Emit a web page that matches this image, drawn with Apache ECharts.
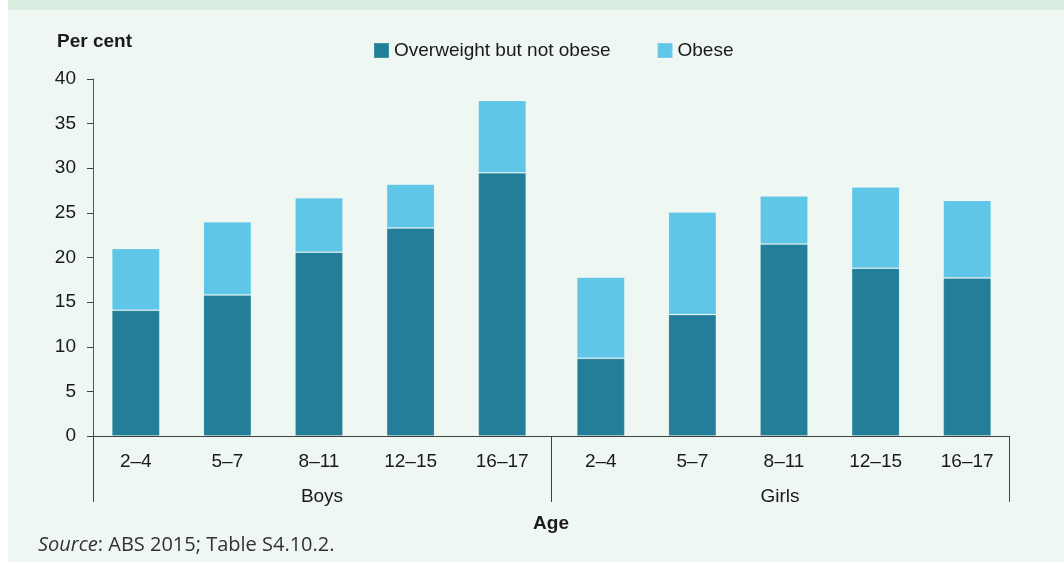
<!DOCTYPE html>
<html>
<head>
<meta charset="utf-8">
<script src="https://cdn.jsdelivr.net/npm/echarts@6/dist/echarts.min.js"></script>
<style>
  html, body { margin: 0; padding: 0; background: #ffffff; }
  #frame { position: absolute; left: 8px; top: 0; width: 1056px; height: 562px; background: #eef7f2; border-top: 10px solid #d9ece0; box-sizing: border-box; }
  #chart { position: absolute; left: 0; top: 0; width: 1064px; height: 563px; }
</style>
</head>
<body>
<div id="frame"></div>
<div id="chart"></div>
<script>
// Age groups shown under each sex
const ageGroups = ['2–4', '5–7', '8–11', '12–15', '16–17'];
const sexes = ['Boys', 'Girls'];

// Per cent of children overweight (but not obese) and obese, by age group
const boysOverweight = [14.1, 15.8, 20.6, 23.3, 29.5];
const boysObese = [6.9, 8.2, 6.1, 4.9, 8.1];
const girlsOverweight = [8.7, 13.6, 21.5, 18.8, 17.7];
const girlsObese = [9.1, 11.5, 5.4, 9.1, 8.7];

const yTicks = { min: 0, max: 40, interval: 5 };

const textColor = '#1a1a1a';
const axisColor = '#404040';
const font = 'Liberation Sans, Arial, sans-serif';
const fontSize = 19;
const darkTeal = '#237f99';
const lightBlue = '#5fc6e8';

const chart = echarts.init(document.getElementById('chart'));

// Grid 0 carries the visible axes; grids 1 and 2 hold the boys and girls bars
const plotTop = 79, plotBottom = 127;

function barAxis(gridIndex) {
  return {
    type: 'category',
    gridIndex,
    data: ageGroups,
    axisLine: { show: false },
    axisTick: { show: false },
    axisLabel: { margin: 16, fontSize, color: textColor, fontFamily: font }
  };
}
function hiddenY(gridIndex) {
  return { type: 'value', gridIndex, min: yTicks.min, max: yTicks.max, interval: yTicks.interval, show: false };
}
function barSeries(name, axisIndex, data, color) {
  return {
    name, type: 'bar', stack: 'g' + axisIndex,
    xAxisIndex: axisIndex, yAxisIndex: axisIndex,
    barWidth: 48, data,
    itemStyle: { color, borderColor: 'rgba(255,255,255,0.15)', borderWidth: 1 }
  };
}

chart.setOption({
  backgroundColor: 'transparent',
  animation: false,
  textStyle: { fontFamily: font, color: textColor },
  legend: {
    left: 368,
    top: 36,
    itemWidth: 15,
    itemHeight: 15,
    itemGap: 46,
    icon: 'rect',
    textStyle: { fontSize, color: textColor, fontFamily: font },
    data: ['Overweight but not obese', 'Obese']
  },
  grid: [
    { left: 93, right: 55, top: plotTop, bottom: plotBottom },
    { left: 90, width: 458, top: plotTop, bottom: plotBottom },
    { left: 555, width: 458, top: plotTop, bottom: plotBottom }
  ],
  xAxis: [
    {
      type: 'category',
      gridIndex: 0,
      data: sexes,
      position: 'bottom',
      boundaryGap: true,
      axisLine: { show: true, lineStyle: { color: axisColor, width: 1 } },
      axisTick: { show: true, length: 66, lineStyle: { color: axisColor, width: 1 } },
      axisLabel: { margin: 51, fontSize, color: textColor, fontFamily: font }
    },
    barAxis(1),
    barAxis(2)
  ],
  yAxis: [
    {
      type: 'value',
      gridIndex: 0,
      min: yTicks.min,
      max: yTicks.max,
      interval: yTicks.interval,
      axisLine: { show: true, lineStyle: { color: '#555555', width: 1 } },
      axisTick: { show: true, length: 6, lineStyle: { color: axisColor } },
      splitLine: { show: false },
      axisLabel: { margin: 17, fontSize, color: textColor, fontFamily: font }
    },
    hiddenY(1),
    hiddenY(2)
  ],
  series: [
    barSeries('Overweight but not obese', 1, boysOverweight, darkTeal),
    barSeries('Obese', 1, boysObese, lightBlue),
    barSeries('Overweight but not obese', 2, girlsOverweight, darkTeal),
    barSeries('Obese', 2, girlsObese, lightBlue)
  ],
  graphic: [
    {
      type: 'text',
      x: 57,
      y: 42,
      style: { text: 'Per cent', font: 'bold ' + fontSize + 'px ' + font, fill: textColor, verticalAlign: 'middle' }
    },
    {
      type: 'text',
      x: 551,
      y: 524,
      style: { text: 'Age', font: 'bold ' + fontSize + 'px ' + font, fill: textColor, align: 'center', verticalAlign: 'middle' }
    },
    {
      type: 'text',
      x: 38,
      y: 545,
      style: {
        verticalAlign: 'middle',
        rich: {
          i: { fontStyle: 'italic', fontSize: 20, fontFamily: 'Open Sans, Noto Sans, sans-serif', fill: '#333333' },
          n: { fontSize: 20, fontFamily: 'Open Sans, Noto Sans, sans-serif', fill: '#333333' }
        },
        text: '{i|Source}{n|: ABS 2015; Table S4.10.2.}'
      }
    }
  ]
});
</script>
</body>
</html>
